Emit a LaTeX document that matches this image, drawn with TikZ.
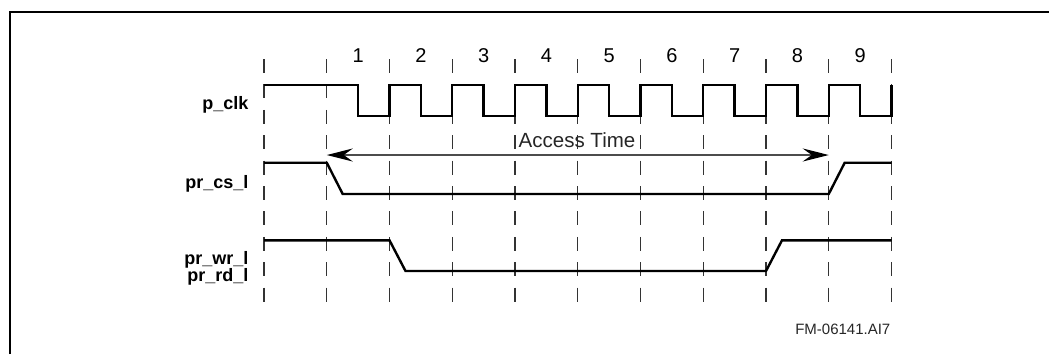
\documentclass[tikz,border=0pt]{standalone}
\usepackage{fontspec}
\setmainfont{Liberation Sans}
\usetikzlibrary{arrows.meta}
\begin{document}
\begin{tikzpicture}[x=1pt,y=-1pt,
  gridline/.style={draw=black!80, line width=1.2pt, dash pattern=on 14pt off 11.4pt},
  sig/.style={draw=black, line width=2.4pt, line join=miter},
  lbl/.style={font=\fontsize{18}{18}\selectfont\bfseries, anchor=base east, inner sep=0pt},
  num/.style={font=\fontsize{20}{20}\selectfont, anchor=base, inner sep=0pt},
  acc/.style={draw=black!70, line width=1.3pt, {Stealth[length=26pt,width=13pt,inset=9pt,color=black]}-{Stealth[length=26pt,width=13pt,inset=9pt,color=black]}},
  frameline/.style={draw=black, line width=2.3pt, line join=miter}]
\useasboundingbox (0,0) rectangle (1049,354);
% frame
\draw[frameline] (10,354) -- (10,12) -- (1049,12);
% dashed cycle lines
\foreach \k in {0,...,10} {
  \pgfmathsetmacro\xx{264+62.75*\k}
  \coordinate (t\k) at (\xx,59);
  \coordinate (b\k) at (\xx,302);
  \draw[gridline] (t\k) -- (b\k);
}
% cycle numbers
\foreach \k in {1,...,9} {
  \pgfmathsetmacro\xx{264+62.75*\k+31.4}
  \node[num] (n\k) at (\xx,62.7) {\k};
}
% labels
\node[lbl] (lclk) at (248.5,109.3) {p\_clk};
\node[lbl] (lcs) at (248.5,188.3) {pr\_cs\_l};
\node[lbl] (lwr) at (248.5,264.3) {pr\_wr\_l};
\node[lbl] (lrd) at (248.5,281) {pr\_rd\_l};
% clock
\draw[sig] (264,85) foreach \k in {1,...,9} {
  -- ({264+62.75*\k+31.4},85) -- ({264+62.75*\k+31.4},116)
  -- ({264+62.75*(\k+1)},116) -- ({264+62.75*(\k+1)},85) };
% chip select
\draw[sig] (264,162.7) -- (326.75,162.7) -- (342.7,194) -- (828.75,194)
  -- (844.7,162.7) -- (891.5,162.7);
% write/read
\draw[sig] (264,240.3) -- (389.5,240.3) -- (405.5,271) -- (766,271)
  -- (782,240.3) -- (891.5,240.3);
% access time
\coordinate (a1) at (326.75,155);
\coordinate (a9) at (828.75,155);
\draw[acc] (a1) -- (a9);
\node[font=\fontsize{20.5}{20.5}\selectfont, text=black!85, anchor=base, inner sep=0pt] (acct) at (577,147.3) {Access Time};
% figure id
\node[font=\fontsize{15}{15}\selectfont, text=black!85, anchor=base east, inner sep=0pt] (fid) at (890.5,334) {FM-06141.AI7};
\end{tikzpicture}
\end{document}
